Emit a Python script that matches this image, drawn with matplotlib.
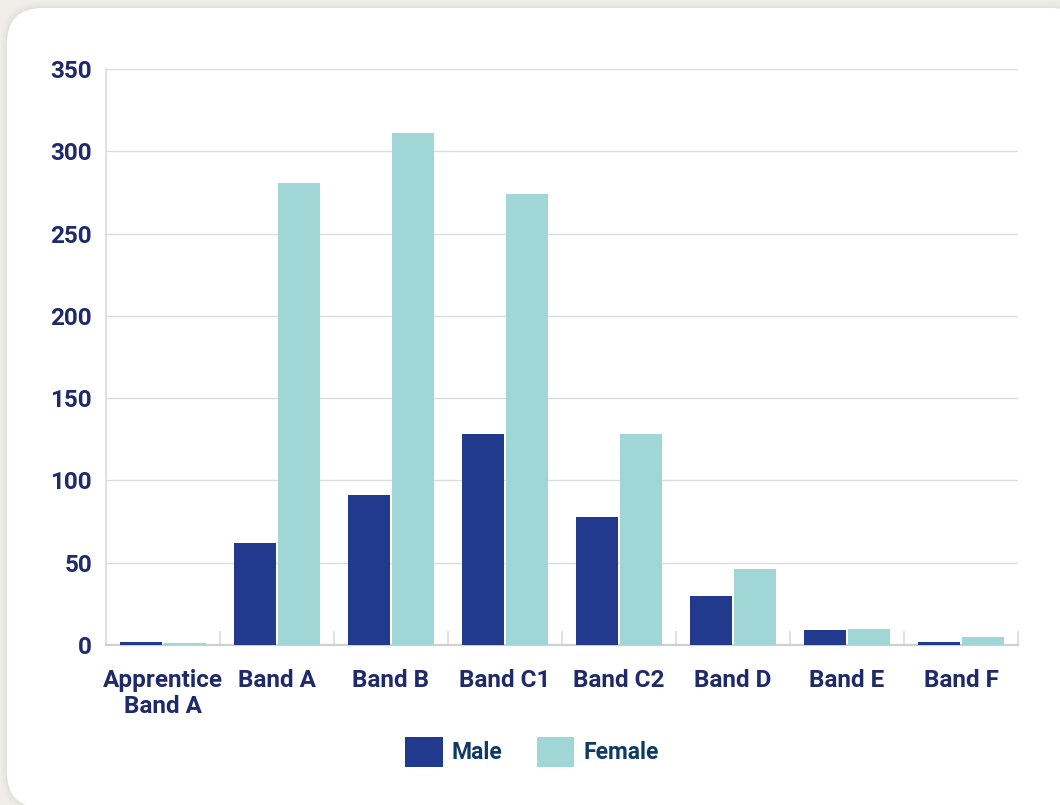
import matplotlib
matplotlib.use("Agg")
import matplotlib.pyplot as plt
import numpy as np
from matplotlib.patches import FancyBboxPatch

categories = ["Apprentice\nBand A", "Band A", "Band B", "Band C1", "Band C2", "Band D", "Band E", "Band F"]
male = [2, 62, 91, 128, 78, 30, 9, 2]
female = [1, 281, 311, 274, 128, 46, 10, 5]
y_ticks = [0, 50, 100, 150, 200, 250, 300, 350]
series_names = ["Male", "Female"]

MALE_COLOR = "#223a8e"
FEMALE_COLOR = "#a1d6d6"
LABEL_COLOR = "#1f2a6b"
LEGEND_COLOR = "#0e3a66"
GRID_COLOR = "#dcdcdc"

plt.rcParams["font.family"] = ["Roboto", "DejaVu Sans"]
plt.rcParams["font.weight"] = "bold"

W, H = 1060, 805
fig = plt.figure(figsize=(W / 100, H / 100), dpi=100)
fig.patch.set_facecolor("#efeee9")

# background card with a soft shadow
bg = fig.add_axes([0, 0, 1, 1])
bg.set_xlim(0, W)
bg.set_ylim(H, 0)
bg.axis("off")
for k, a in [(6, 0.03), (4, 0.04), (2, 0.05)]:
    bg.add_patch(FancyBboxPatch((7 - k, 8 - k), 1080 + 2 * k, 800 + 2 * k,
                                boxstyle="round,pad=0,rounding_size=38",
                                fc="#9a968c", ec="none", alpha=a))
bg.add_patch(FancyBboxPatch((7, 8), 1080, 800,
                            boxstyle="round,pad=0,rounding_size=36",
                            fc="white", ec="none"))

ax = fig.add_axes([106 / W, 160 / H, 912 / W, 576 / H])
ax.set_facecolor("none")
x = np.arange(len(categories))
bw = 0.368
off = 0.197
ax.bar(x - off, male, width=bw, color=MALE_COLOR, label=series_names[0], zorder=3)
ax.bar(x + off, female, width=bw, color=FEMALE_COLOR, label=series_names[1], zorder=3)

ax.set_xlim(-0.5, len(categories) - 0.5)
ax.set_ylim(0, 350)
ax.set_yticks(y_ticks)
ax.set_xticks(x)
ax.set_xticklabels(categories, fontsize=17.5, fontweight="bold", color=LABEL_COLOR,
                   linespacing=1.2)
ax.set_xticks(np.arange(len(categories)) + 0.5, minor=True)
ax.tick_params(axis="x", which="major", length=0, pad=17)
ax.tick_params(axis="x", which="minor", direction="in", length=10, color=GRID_COLOR, width=1.2)
ax.tick_params(axis="y", length=0, pad=10, labelsize=17.5, labelcolor=LABEL_COLOR)
for lab in ax.get_yticklabels():
    lab.set_fontweight("bold")

ax.grid(axis="y", color=GRID_COLOR, linewidth=1, zorder=0)
ax.set_axisbelow(True)
for s in ["top", "right"]:
    ax.spines[s].set_visible(False)
ax.spines["left"].set_color(GRID_COLOR)
ax.spines["left"].set_linewidth(1.2)
ax.spines["bottom"].set_color("#d0d0d0")
ax.spines["bottom"].set_linewidth(1.6)

leg = fig.legend(loc="center", bbox_to_anchor=(532 / W, 1 - 752 / H), ncol=2,
                 frameon=False, fontsize=16.5, handlelength=1.62, handleheight=1.62,
                 handletextpad=0.4, columnspacing=1.5)
for t in leg.get_texts():
    t.set_color(LEGEND_COLOR)
    t.set_fontweight("bold")

fig.savefig("out.png", dpi=100, facecolor=fig.get_facecolor())
